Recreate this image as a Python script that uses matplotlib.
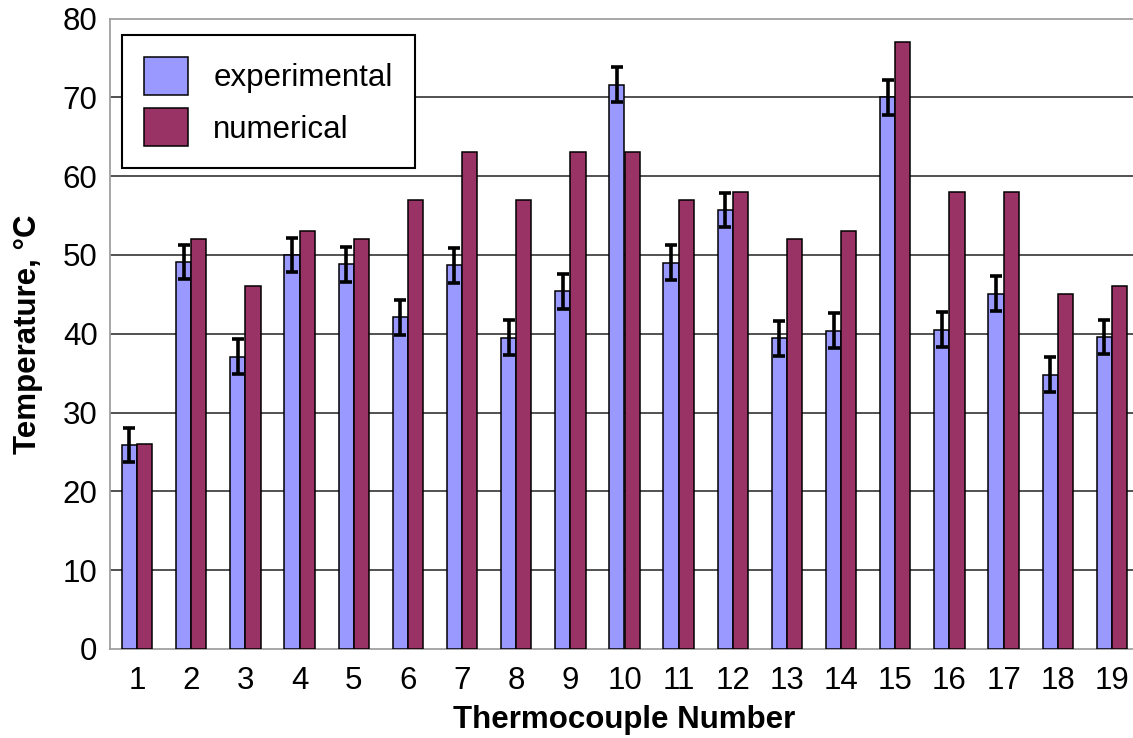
import matplotlib
matplotlib.use("Agg")
import matplotlib.pyplot as plt
import numpy as np

plt.rcParams['font.family'] = ['Liberation Sans', 'DejaVu Sans']

thermocouples = [str(i) for i in range(1, 20)]
experimental = [25.9, 49.1, 37.1, 50.0, 48.8, 42.1, 48.7, 39.5, 45.4, 71.6,
                49.0, 55.7, 39.4, 40.4, 70.0, 40.5, 45.1, 34.8, 39.6]
numerical = [26, 52, 46, 53, 52, 57, 63, 57, 63, 63,
             57, 58, 52, 53, 77, 58, 58, 45, 46]
exp_error = [2.2] * 19

W, H = 1133, 738
FS = 22.5
fig = plt.figure(figsize=(W / 100, H / 100), dpi=100)
ax = fig.add_axes([110 / W, 1 - 649 / H, 1029 / W, (649 - 18.5) / H])

x = np.arange(1, 20)
bw = 0.28
ax.bar(x - bw / 2, experimental, bw, color='#9999FF', edgecolor='black',
       linewidth=1.1, label='experimental', zorder=3)
ax.bar(x + bw / 2, numerical, bw, color='#993366', edgecolor='black',
       linewidth=1.1, label='numerical', zorder=3)
ax.errorbar(x - bw / 2, experimental, yerr=exp_error, fmt='none',
            ecolor='black', elinewidth=2.6, capsize=4, capthick=2.6, zorder=4)

ax.set_xlim(0.5, 19.5)
ax.set_ylim(0, 80)
ax.set_yticks(np.arange(0, 81, 10))
ax.set_xticks(x)
ax.set_xticklabels(thermocouples)
ax.tick_params(axis='both', length=0, labelsize=FS)
ax.tick_params(axis='y', pad=9)
ax.tick_params(axis='x', pad=12)

for y in range(10, 80, 10):
    ax.axhline(y, color='#222222', linewidth=1.1, zorder=1)

for side in ['left', 'bottom', 'top']:
    ax.spines[side].set_color('#a0a0a0')
    ax.spines[side].set_linewidth(1.3)
ax.spines['right'].set_visible(False)

ax.set_ylabel('Temperature, °C', fontsize=FS, fontweight='bold', labelpad=14)
ax.set_xlabel('Thermocouple Number', fontsize=FS, fontweight='bold', labelpad=7)

leg = ax.legend(loc='upper left', bbox_to_anchor=(122 / W, 1 - 35 / H),
                bbox_transform=fig.transFigure, borderaxespad=0,
                fontsize=FS, handlelength=1.42, handleheight=1.5,
                handletextpad=0.8, labelspacing=0.42, borderpad=0.7,
                fancybox=False, framealpha=1, edgecolor='black')
leg.get_frame().set_linewidth(1.5)
leg.set_zorder(5)

fig.savefig('out.png', dpi=100)
